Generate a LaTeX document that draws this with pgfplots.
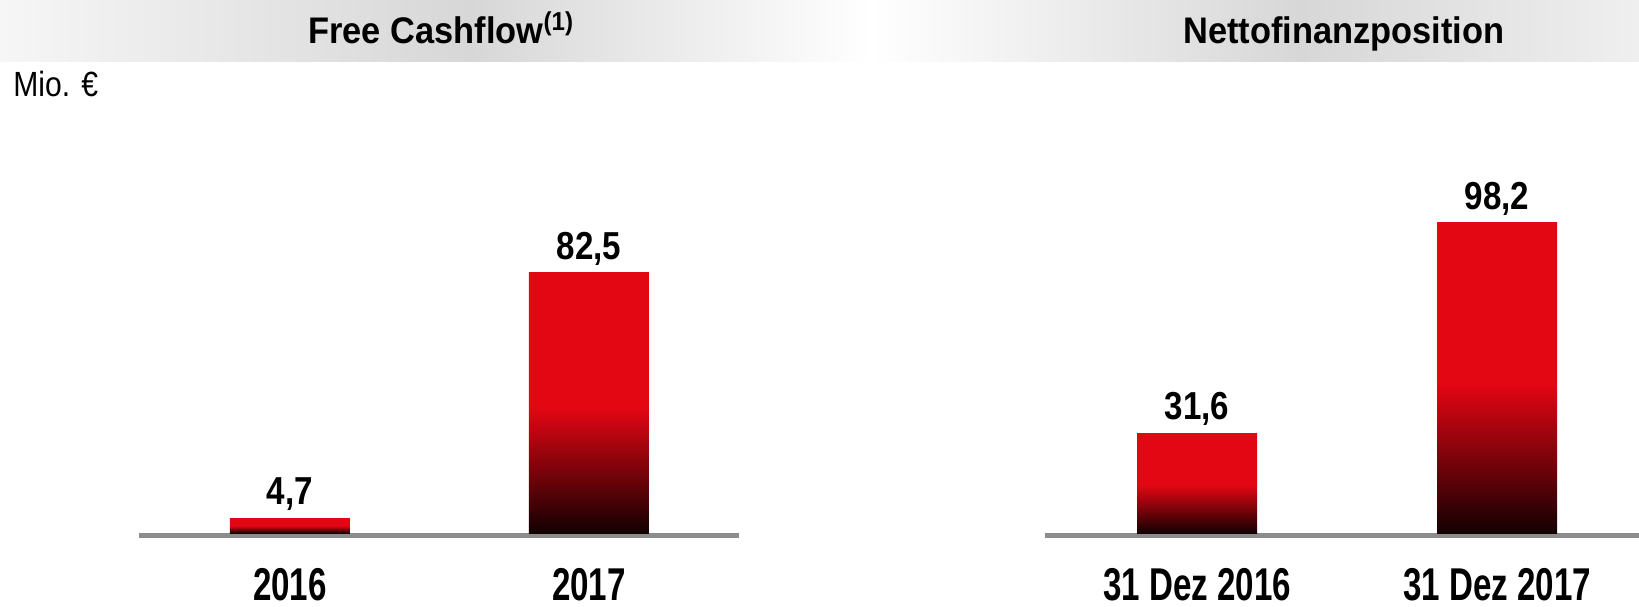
\documentclass[border=0pt]{standalone}
\usepackage{pgfplots}
\usepackage{pgfplotstable}
\pgfplotsset{compat=1.18}
\usepackage{fontspec}
\setmainfont{Liberation Sans}
\newfontfamily\titlefont{Liberation Sans}[FakeStretch=0.93]
\newfontfamily\valfont{Liberation Sans}[FakeStretch=0.85]
\newfontfamily\catfont{Liberation Sans}[FakeStretch=0.72]
\newfontfamily\miofont{Liberation Sans}[FakeStretch=0.86]
\definecolor{barred}{HTML}{E30613}
\definecolor{bardark}{HTML}{120002}
\definecolor{axisgray}{HTML}{8C8C8C}
\definecolor{bannerpeak}{HTML}{D7D7D7}
\definecolor{bannerleft}{HTML}{F6F6F6}
\definecolor{bannerright}{HTML}{EFEFEF}
\pgfdeclareverticalshading{barshade}{100bp}{color(0bp)=(bardark); color(25bp)=(bardark); color(49bp)=(barred); color(100bp)=(barred)}
\pgfdeclarehorizontalshading{bannerL}{100bp}{color(0bp)=(bannerleft); color(25bp)=(bannerleft); color(52bp)=(bannerpeak); color(75bp)=(white); color(100bp)=(white)}
\pgfdeclarehorizontalshading{bannerR}{100bp}{color(0bp)=(white); color(25bp)=(white); color(53bp)=(bannerpeak); color(75bp)=(bannerright); color(100bp)=(bannerright)}

\pgfplotstableread{
x y label
0 4.7 4,7
1 82.5 82,5
}\fcf
\pgfplotstableread{
x y label
0 31.6 31,6
1 98.2 98,2
}\nfp

\pgfplotsset{
  panel/.style={
    scale only axis,
    height=173.8pt,
    ymin=0, ymax=110,
    hide y axis,
    axis line style={draw=none},
    xtick={0,1},
    major tick length=0pt,
    xtick style={draw=none},
    xticklabel style={font=\catfont\bfseries\fontsize{23pt}{26pt}\selectfont, anchor=base, yshift=-33.5pt, inner sep=0pt},
    clip=false,
    anchor=south west,
  },
  barplot/.style={
    ybar, bar shift=0pt, bar width=60pt, draw=none, shading=barshade,
    nodes near coords,
    point meta=explicit symbolic,
    nodes near coords style={font=\valfont\bfseries\fontsize{19.5pt}{22pt}\selectfont, anchor=base, yshift=6.6pt, inner sep=0pt, text=black},
  },
}

\begin{document}
\begin{tikzpicture}[x=1pt,y=1pt]
\useasboundingbox (0,0) rectangle (819.5,303);
\shade[shading=bannerL] (0,272) rectangle (435,303);
\shade[shading=bannerR] (435,272) rectangle (819.5,303);
\node[anchor=base west, inner sep=0pt, font=\titlefont\bfseries\fontsize{18.5pt}{21pt}\selectfont] at (154,281.35) {Free Cashflow\textsuperscript{(1)}};
\node[anchor=base west, inner sep=0pt, font=\titlefont\bfseries\fontsize{18.5pt}{21pt}\selectfont] at (591.5,281.35) {Nettofinanzposition};
\node[anchor=base west, inner sep=0pt, font=\miofont\fontsize{17.5pt}{20pt}\selectfont] at (6.5,254.65) {Mio. €};

\begin{axis}[panel, at={(69.5pt,36.5pt)}, width=300pt, xmin=-0.505, xmax=1.502, xticklabels={2016,2017}]
\draw[axisgray, line width=2.6pt] ([yshift=-1.3pt]rel axis cs:0,0) -- ([yshift=-1.3pt]rel axis cs:1,0);
\addplot[barplot, skip coords between index={1}{2}] table[x=x, y=y, meta=label] {\fcf};
\addplot[barplot, skip coords between index={0}{1}] table[x=x, y=y, meta=label] {\fcf};
\end{axis}

\begin{axis}[panel, at={(522.5pt,36.5pt)}, width=297pt, xmin=-0.507, xmax=1.473, xticklabels={31 Dez 2016,31 Dez 2017}]
\draw[axisgray, line width=2.6pt] ([yshift=-1.3pt]rel axis cs:0,0) -- ([yshift=-1.3pt]rel axis cs:1,0);
\addplot[barplot, skip coords between index={1}{2}] table[x=x, y=y, meta=label] {\nfp};
\addplot[barplot, skip coords between index={0}{1}] table[x=x, y=y, meta=label] {\nfp};
\end{axis}
\end{tikzpicture}
\end{document}
